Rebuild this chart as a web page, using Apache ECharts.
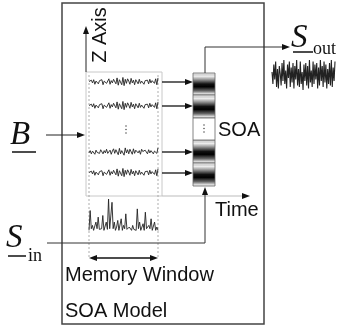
<!DOCTYPE html>
<html>
<head>
<meta charset="utf-8">
<script src="https://cdn.jsdelivr.net/npm/echarts@6/dist/echarts.min.js"></script>
<style>html,body{margin:0;padding:0;background:#fff}#c{width:338px;height:328px}</style>
</head>
<body>
<div id="c"></div>
<script>
// ---- data ----
const zTraceA = [0.1,-0.3,0.4,-0.2,0.5,-0.5,0.2,0.6,-0.4,0.3,-0.1,0.5,-0.6,0.2,0.4,-0.3,0.1,0.7,-0.5,0.3,-0.2,0.6,0.8,-0.4,0.9,-0.7,0.5,0.3,-0.6,1.0,-0.8,0.6,-0.3,0.7,0.2,-0.5,0.8,-0.2,0.4,-0.6,0.5,0.1,-0.4,0.6,-0.3,0.2,0.5,-0.5,0.3,-0.1,0.4,-0.4,0.6,-0.2,0.3,0.5,-0.3,0.7,-0.6,0.9];
const zTraceB = [-0.2,0.3,-0.4,0.2,0.1,-0.5,0.4,-0.1,0.3,-0.3,0.5,0.2,-0.4,0.3,-0.2,0.6,-0.3,0.1,0.4,-0.5,0.2,0.7,-0.3,0.5,0.9,-0.6,0.8,-0.4,0.3,0.7,-0.7,0.9,-0.2,0.5,-0.4,0.6,0.2,-0.5,0.7,-0.3,0.4,0.6,-0.2,0.3,-0.5,0.6,0.1,-0.3,0.4,0.2,-0.4,0.5,-0.2,0.3,0.6,-0.4,0.2,0.5,-0.3,0.9];
const zRowTraces = ['A','A','B','A'];
const sInValues = [0.05,0.65,0.1,0.2,0.05,0.08,0.3,0.1,0.45,0.08,0.05,0.1,0.5,0.05,0.1,0.3,0.08,1.0,0.1,0.05,0.9,0.1,0.3,0.05,0.15,0.35,0.05,0.1,0.4,0.05,0.2,0.1,0.55,0.08,0.05,0.15,0.1,0.05,0.2,0.08,0.1,0.05,0.7,0.1,0.3,0.05,0.1,0.25,0.05,0.6,0.1,0.05,0.2,0.1,0.4,0.05,0.1,0.3,0.05,0.15,0.05];
const sOutValues = [0.2,-0.6,0.7,-0.3,0.9,-0.8,0.4,-0.9,0.6,0.1,-0.7,0.8,-0.4,1.0,-0.6,0.3,-0.9,0.7,-0.2,0.9,-0.8,0.5,-0.5,0.8,-0.9,0.6,-0.3,1.0,-0.7,0.4,-0.8,0.9,-0.6,0.2,-1.0,0.7,-0.4,0.8,-0.7,0.6,-0.9,1.0,-0.5,0.3,-0.8,0.9,-0.6,0.7,-0.3,0.8,-0.9,0.5,-0.7,1.0,-0.4,0.6,-0.8,0.9,-0.5,0.7,-0.9,0.4,-0.6,0.8,-0.7,1.0,-0.8,0.5,-0.4,0.9];
const labelZ = 'Z Axis';
const labelTime = 'Time';
const labelSOA = 'SOA';
const labelMemory = 'Memory Window';
const labelModel = 'SOA Model';
const labelB = 'B';
const labelS = 'S';
const subIn = 'in';
const subOut = 'out';

// ---- layout helpers (pixel geometry of the schematic) ----
const zRowY = [82, 106, 152, 173];
function pairs(arr){ return arr.map((v,i)=>[i,v]); }

const grids = [], xAxes = [], yAxes = [], series = [];
function addTrace(left, top, width, height, values, ymin, ymax, lw){
  const idx = grids.length;
  grids.push({left:left, top:top, width:width, height:height, containLabel:false});
  xAxes.push({type:'value', gridIndex:idx, min:0, max:values.length-1, show:false});
  yAxes.push({type:'value', gridIndex:idx, min:ymin, max:ymax, show:false});
  series.push({type:'line', xAxisIndex:idx, yAxisIndex:idx, data:pairs(values), symbol:'none',
    lineStyle:{color:'#222', width:lw}, silent:true, animation:false});
}
zRowY.forEach((y,i)=>{
  addTrace(89, y-5, 69, 10, zRowTraces[i]==='A'?zTraceA:zTraceB, -1.1, 1.1, 0.9);
});
addTrace(89, 199, 69, 33, sInValues, 0, 1, 0.9);
addTrace(272, 60, 63, 30, sOutValues, -1, 1, 1.1);

// graphic primitives
const g = [];
function line(pts, color, w, dash){
  g.push({type:'polyline', shape:{points:pts}, style:{stroke:color||'#222', lineWidth:w||1, fill:null, lineDash:dash||null}, silent:true});
}
function head(tx, ty, dir, color){
  const L=8, H=3; let pts;
  if(dir==='right') pts=[[tx,ty],[tx-L,ty-H],[tx-L,ty+H]];
  if(dir==='left') pts=[[tx,ty],[tx+L,ty-H],[tx+L,ty+H]];
  if(dir==='up') pts=[[tx,ty],[tx-H,ty+L],[tx+H,ty+L]];
  g.push({type:'polygon', shape:{points:pts}, style:{fill:color||'#111'}, silent:true});
}
// y given as top of the text box
function text(x, y, s, font){
  g.push({type:'text', x:x, y:y, style:{text:s, font:font, fill:'#111', textAlign:'left', textVerticalAlign:'top'}, silent:true});
}

// main box
g.push({type:'rect', shape:{x:62, y:3, width:202, height:321}, style:{stroke:'#444', lineWidth:1.5, fill:null}, silent:true});
// inner light box
g.push({type:'rect', shape:{x:86, y:72, width:76, height:124}, style:{stroke:'#c8c8c8', lineWidth:1, fill:null}, silent:true});
// dashed verticals
line([[89,75],[89,258]], '#999', 0.8, [2,2]);
line([[158,75],[158,258]], '#999', 0.8, [2,2]);
// Z axis
line([[86,72],[86,32]], '#222', 1);
head(86, 26, 'up');
// Time axis
line([[162,196],[244,196]], '#bbb', 1);
head(250, 196, 'right');
// dots in inner box
[126,129.5,133].forEach(y=>g.push({type:'circle', shape:{cx:126, cy:y, r:0.7}, style:{fill:'#333'}, silent:true}));
// row arrows to SOA
zRowY.forEach(y=>{ line([[162,y],[186,y]], '#111', 1.3); head(193, y, 'right'); });
// B arrow
line([[46,135],[78,135]], '#222', 1);
head(85, 135, 'right');
// SOA block
const bands = [[73,95],[95,118],[140,163],[163,186]];
bands.forEach(b=>{
  g.push({type:'rect', shape:{x:193, y:b[0], width:22, height:b[1]-b[0]},
    style:{stroke:'#666', lineWidth:0.8, fill:{type:'linear', x:0, y:0, x2:0, y2:1, colorStops:[
      {offset:0, color:'#f2f2f2'},{offset:0.1, color:'#cfcfcf'},{offset:0.16,color:'#eeeeee'},{offset:0.3, color:'#999'},{offset:0.5, color:'#111'},{offset:0.62, color:'#000'},{offset:0.8, color:'#666'},{offset:0.92, color:'#d8d8d8'},{offset:1, color:'#f2f2f2'}]}}, silent:true});
});
g.push({type:'rect', shape:{x:193, y:118, width:22, height:22}, style:{stroke:'#666', lineWidth:0.8, fill:'#fff'}, silent:true});
[125,128.5,132].forEach(y=>g.push({type:'circle', shape:{cx:204, cy:y, r:0.7}, style:{fill:'#333'}, silent:true}));
// S_out path
line([[205,73],[205,47],[283,47]], '#333', 1);
head(290, 47, 'right');
// S_in path
line([[47,243],[205,243],[205,195]], '#333', 1);
head(205, 187, 'up');
// Memory window double arrow
line([[95,258],[152,258]], '#111', 1.5);
head(89, 258, 'left'); head(158, 258, 'right');

// texts
const sans = '20px "Liberation Sans", Arial, sans-serif';
g.push({type:'text', x:100, y:35, rotation:Math.PI/2, style:{text:labelZ, font:sans, fill:'#111', textAlign:'center', textVerticalAlign:'middle'}, silent:true});
text(215, 200, labelTime, sans);
text(218, 120, labelSOA, sans);
text(65, 265, labelMemory, sans);
text(65, 301, labelModel, sans);
const serifIt = 'italic 33px "Liberation Serif", serif';
const serifSub = '18px "Liberation Serif", serif';
text(10, 119, labelB, serifIt);
line([[12,152],[36,152]], '#111', 1.5);
text(6, 222, labelS, serifIt);
line([[8,256],[26,256]], '#111', 1.5);
text(28, 247, subIn, serifSub);
text(291, 22, labelS, serifIt);
line([[293,52],[313,52]], '#111', 1.5);
text(313, 40, subOut, serifSub);

const chart = echarts.init(document.getElementById('c'), null, {renderer:'canvas'});
chart.setOption({
  animation:false,
  backgroundColor:'#fff',
  grid:grids, xAxis:xAxes, yAxis:yAxes, series:series,
  graphic:{elements:g}
});
</script>
</body>
</html>
